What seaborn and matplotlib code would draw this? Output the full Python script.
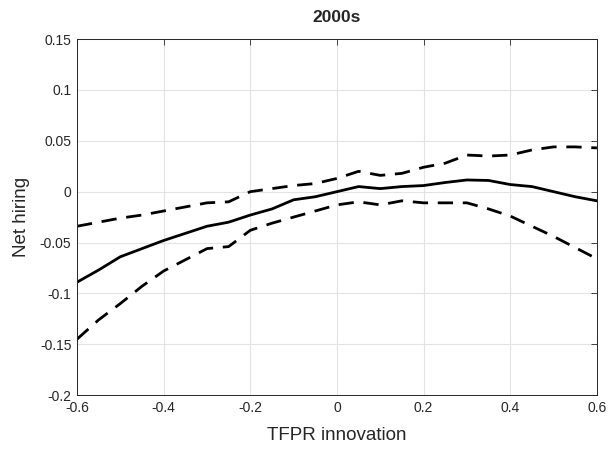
import matplotlib
matplotlib.use('Agg')
import matplotlib.pyplot as plt
import pandas as pd
import seaborn as sns

# ── data ─────────────────────────────────────────────────────────────────────
tfpr = [-0.6, -0.55, -0.5, -0.45, -0.4, -0.35, -0.3, -0.25, -0.2, -0.15, -0.1,
        -0.05, 0.0, 0.05, 0.1, 0.15, 0.2, 0.25, 0.3, 0.35, 0.4, 0.45, 0.5,
        0.55, 0.6]
hiring = [-0.089, -0.077, -0.064, -0.056, -0.048, -0.041, -0.034, -0.030,
          -0.023, -0.017, -0.008, -0.005, 0.000, 0.005, 0.003, 0.005, 0.006,
          0.009, 0.0115, 0.011, 0.007, 0.005, 0.000, -0.005, -0.009]
upper = [-0.034, -0.030, -0.026, -0.023, -0.019, -0.015, -0.011, -0.010,
         0.000, 0.003, 0.006, 0.008, 0.013, 0.020, 0.016, 0.018, 0.024,
         0.028, 0.036, 0.035, 0.036, 0.041, 0.044, 0.044, 0.043]
lower = [-0.145, -0.126, -0.110, -0.093, -0.078, -0.067, -0.056, -0.054,
         -0.038, -0.031, -0.025, -0.019, -0.013, -0.010, -0.013, -0.009,
         -0.011, -0.011, -0.011, -0.017, -0.024, -0.034, -0.044, -0.055,
         -0.066]

xticks = [-0.6, -0.4, -0.2, 0, 0.2, 0.4, 0.6]
xticklabels = ['-0.6', '-0.4', '-0.2', '0', '0.2', '0.4', '0.6']
yticks = [-0.2, -0.15, -0.1, -0.05, 0, 0.05, 0.1, 0.15]
yticklabels = ['-0.2', '-0.15', '-0.1', '-0.05', '0', '0.05', '0.1', '0.15']

df = pd.DataFrame({'tfpr': tfpr, 'hiring': hiring, 'upper': upper, 'lower': lower})

sns.set_style('white')
plt.rcParams['font.family'] = ['Liberation Sans', 'DejaVu Sans']

fig = plt.figure(figsize=(6.16, 4.49), dpi=100)
ax = fig.add_axes([0.125, 0.12, 0.844, 0.793])

sns.lineplot(data=df, x='tfpr', y='hiring', color='black', linewidth=2.0, ax=ax)
for col in ['upper', 'lower']:
    sns.lineplot(data=df, x='tfpr', y=col, color='black', linewidth=2.0,
                 linestyle=(0, (5.5, 3.5)), ax=ax)

ax.set_xlim(-0.6, 0.6)
ax.set_ylim(-0.2, 0.15)
ax.set_xticks(xticks)
ax.set_xticklabels(xticklabels)
ax.set_yticks(yticks)
ax.set_yticklabels(yticklabels)
ax.grid(True, color='#e3e3e3', linewidth=0.8)
ax.set_axisbelow(True)
ax.tick_params(direction='in', length=4, width=0.6, top=True, right=True,
               labelsize=10, colors='#262626', pad=4)
for s in ax.spines.values():
    s.set_color('#262626')
    s.set_linewidth(0.7)

ax.set_xlabel('TFPR innovation', fontsize=13.5, color='#262626', labelpad=9)
ax.set_ylabel('Net hiring', fontsize=13.5, color='#262626', labelpad=7)
ax.set_title('2000s', fontsize=12.5, fontweight='bold', pad=12)

fig.savefig('out.png', dpi=100)
